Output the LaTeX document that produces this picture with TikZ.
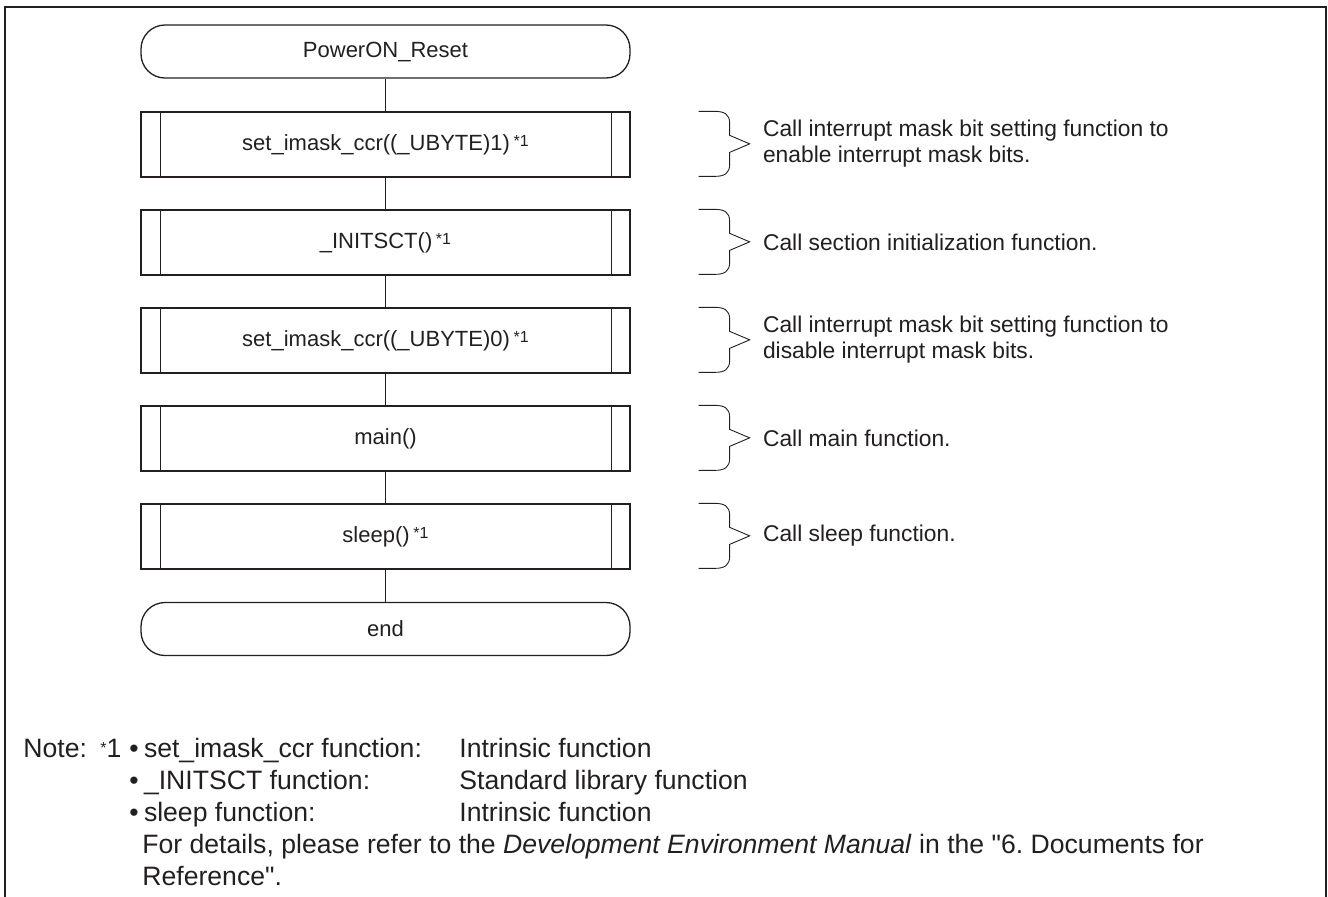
\documentclass[tikz,border=0pt]{standalone}
\usepackage{fontspec}
\setmainfont{Liberation Sans}
\usetikzlibrary{positioning, calc}
\definecolor{ink}{RGB}{35,31,32}
\newcommand\fnmark{\,\raisebox{.3ex}{\footnotesize *1}}
\tikzset{
	term/.style={draw=ink, line width=0.65pt, rounded corners=12pt, minimum width=244.5pt, minimum height=26.5pt, text=ink, font=\fontsize{11}{13}\selectfont},
	proc/.style={draw=ink, line width=0.65pt, minimum width=244.5pt, minimum height=32.5pt, text=ink, font=\fontsize{11}{13}\selectfont,
		path picture={
			\draw[ink, line width=0.5pt] ([xshift=9.5pt]path picture bounding box.north west) -- ([xshift=9.5pt]path picture bounding box.south west);
			\draw[ink, line width=0.5pt] ([xshift=-9.5pt]path picture bounding box.north east) -- ([xshift=-9.5pt]path picture bounding box.south east);
		}},
	link/.style={draw=ink, line width=0.45pt},
	brc/.style={draw=ink, line width=0.45pt},
	lbl/.style={anchor=west, align=left, inner sep=0pt, text=ink, font=\fontsize{11.4}{13}\selectfont},
	txt/.style={anchor=base west, inner sep=0pt, text=ink, font=\fontsize{13.3}{16}\selectfont}
}
\begin{document}
\frenchspacing
\begin{tikzpicture}[x=0.5pt, y=-0.5pt]
		\useasboundingbox (0,0) rectangle (1328,896);
		\draw[ink, line width=1.15pt] (5,910) -- (5,7) -- (1326,7) -- (1326,910);
		% flow
		\node[term] (start) at (385.5, 51.5) {PowerON\_Reset};
		\node[proc] (s1) at (385.5, 144.5) {set\_imask\_ccr((\_UBYTE)1)\fnmark};
		\node[proc] (s2) at (385.5, 242.5) {\_INITSCT()\fnmark};
		\node[proc] (s3) at (385.5, 340.5) {set\_imask\_ccr((\_UBYTE)0)\fnmark};
		\node[proc] (s4) at (385.5, 438.5) {main()};
		\node[proc] (s5) at (385.5, 536.5) {sleep()\fnmark};
		\node[term] (stop) at (385.5, 629) {end};
		\foreach \a/\b in {start/s1, s1/s2, s2/s3, s3/s4, s4/s5, s5/stop}{
			\draw[link] (\a) -- (\b);
		}
		% braces and comments
		\foreach \i/\t in {1/{Call interrupt mask bit setting function to\\enable interrupt mask bits.},
				2/{Call section initialization function.},
				3/{Call interrupt mask bit setting function to\\disable interrupt mask bits.},
				4/{Call main function.},
				5/{Call sleep function.}}{
			\begin{scope}[shift={(s\i.north east)}]
				\draw[brc] (68,0) -- (84,0) .. controls (94,0) and (99,3) .. (99,12) -- (99,24) -- (119,32.5) -- (99,41) -- (99,53) .. controls (99,62) and (94,65) .. (84,65) -- (68,65);
				\node[lbl] (c\i) at (132,32.5) {\t};
			\end{scope}
		}
		% note
		\node[txt] (note) at (23,757) {Note:};
		\node[txt] (mark) at (100,757) {\raisebox{.12em}{\footnotesize *}1};
		\node[txt] (b1) at (129,757) {\textbullet\hspace{.2em}set\_imask\_ccr function:};
		\node[txt] (b2) at (129,789) {\textbullet\hspace{.2em}\_INITSCT function:};
		\node[txt] (b3) at (129,821) {\textbullet\hspace{.2em}sleep function:};
		\node[txt] (d1) at (459,757) {Intrinsic function};
		\node[txt] (d2) at (459,789) {Standard library function};
		\node[txt] (d3) at (459,821) {Intrinsic function};
		\node[txt] (det1) at (142,853) {For details, please refer to the \textit{Development Environment Manual} in the \textquotedbl 6. Documents for};
		\node[txt] (det2) at (142,885) {Reference\textquotedbl.};
	\end{tikzpicture}
\end{document}
